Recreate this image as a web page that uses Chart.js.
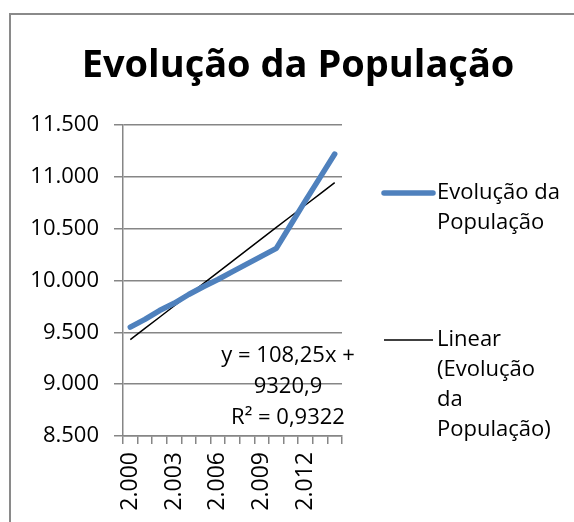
<!DOCTYPE html>
<html>
<head>
<meta charset="utf-8">
<script src="https://cdn.jsdelivr.net/npm/chart.js@4/dist/chart.umd.min.js"></script>
<style>
html, body { margin: 0; padding: 0; background: #fff; overflow: hidden; }
#moldura { position: absolute; left: 9px; top: 13px; width: 700px; height: 700px;
  border-left: 2px solid #8a8a8a; border-top: 2px solid #8a8a8a; }
#grafico { position: absolute; left: 0; top: 0; }
</style>
</head>
<body>
<div id="moldura"></div>
<canvas id="grafico" width="574" height="522"></canvas>
<script>
// dados
var anos = [2000, 2001, 2002, 2003, 2004, 2005, 2006, 2007, 2008, 2009, 2010, 2011, 2012, 2013, 2014];
var populacao = [9550, 9625, 9710, 9780, 9865, 9940, 10010, 10085, 10160, 10235, 10310, 10540, 10770, 10995, 11220];
var ticksY = [8500, 9000, 9500, 10000, 10500, 11000, 11500];

var titulo = 'Evolução da População';
var nomeSerie = 'Evolução da População';
var nomeTendencia = 'Linear (Evolução da População)';
// equacao da linha de tendencia (como aparece no grafico)
var inclinacao = 108.25;
var intercepto = 9320.9;
var r2 = 0.9322;

function milhar(n) {
	return String(n).replace(/\B(?=(\d{3})+(?!\d))/g, '.');
}
function virgula(n) {
	return String(n).replace('.', ',');
}

var tendencia = anos.map(function(a, i) { return inclinacao * (i + 1) + intercepto; });

var fonte = "'Open Sans', sans-serif";
Chart.defaults.font.family = fonte;
Chart.defaults.color = '#000';

function quebraTexto(ctx, texto, largura) {
	var palavras = texto.split(' ');
	var linhas = [];
	var atual = '';
	palavras.forEach(function(p) {
		var teste = atual ? atual + ' ' + p : p;
		if (atual && ctx.measureText(teste).width > largura) {
			linhas.push(atual);
			atual = p;
		} else {
			atual = teste;
		}
	});
	if (atual) linhas.push(atual);
	return linhas;
}

var extras = {
	id: 'extras',
	afterDraw: function(chart) {
		var ctx = chart.ctx;
		var area = chart.chartArea;
		ctx.save();
		ctx.fillStyle = '#000';
		ctx.textBaseline = 'middle';

		// titulo
		ctx.font = 'bold 38px ' + fonte;
		ctx.textAlign = 'center';
		ctx.fillText(titulo, 298, 66);

		// legenda
		ctx.font = '22px ' + fonte;
		ctx.textAlign = 'left';
		var topos = [193, 340];
		chart.data.datasets.forEach(function(ds, i) {
			var y = topos[i];
			ctx.beginPath();
			ctx.strokeStyle = ds.borderColor;
			ctx.lineWidth = ds.borderWidth;
			ctx.lineCap = ds.borderCapStyle || 'butt';
			ctx.moveTo(area.right + 42, y);
			ctx.lineTo(area.right + 91, y);
			ctx.stroke();
			var linhas = quebraTexto(ctx, ds.label, 128);
			linhas.forEach(function(l, k) {
				ctx.fillText(l, area.right + 95, y + k * 30);
			});
		});

		// equacao da tendencia
		ctx.textAlign = 'center';
		var eq = ['y = ' + virgula(inclinacao) + 'x +', virgula(intercepto), 'R² = ' + virgula(r2)];
		eq.forEach(function(l, k) {
			ctx.fillText(l, area.right - 54, area.bottom - 80 + k * 31);
		});
		ctx.restore();
	}
};

var grafico = new Chart(document.getElementById('grafico').getContext('2d'), {
	type: 'line',
	data: {
		labels: anos,
		datasets: [{
			label: nomeSerie,
			data: populacao,
			borderColor: '#4f81bd',
			borderWidth: 5.5,
			borderCapStyle: 'round',
			borderJoinStyle: 'round',
			pointRadius: 0,
			tension: 0
		}, {
			label: nomeTendencia,
			data: tendencia,
			borderColor: '#000',
			borderWidth: 1.5,
			pointRadius: 0,
			tension: 0
		}]
	},
	plugins: [extras],
	options: {
		responsive: false,
		animation: false,
		layout: { padding: { left: 0, right: 232, top: 125, bottom: 0 } },
		plugins: {
			legend: { display: false },
			title: { display: false },
			tooltip: { enabled: false }
		},
		scales: {
			x: {
				offset: true,
				grid: { offset: true, drawOnChartArea: false, drawTicks: true, tickLength: 8, color: '#868686', lineWidth: 1.5 },
				border: { color: '#868686', width: 1.5 },
				ticks: {
					autoSkip: false,
					minRotation: 90,
					maxRotation: 90,
					padding: 8,
					font: { size: 23 },
					callback: function(v, i) { return i % 3 === 0 ? milhar(anos[i]) : ''; }
				},
				afterFit: function(s) { s.height = 86; }
			},
			y: {
				min: 8500,
				max: 11500,
				afterBuildTicks: function(s) { s.ticks = ticksY.map(function(v) { return { value: v }; }); },
				grid: { color: '#868686', lineWidth: 1.5, tickLength: 9 },
				border: { color: '#868686', width: 1.5 },
				ticks: {
					padding: 15,
					font: { size: 22 },
					callback: function(v) { return milhar(v); }
				},
				afterFit: function(s) { s.width = 123; }
			}
		}
	}
});
</script>
</body>
</html>
